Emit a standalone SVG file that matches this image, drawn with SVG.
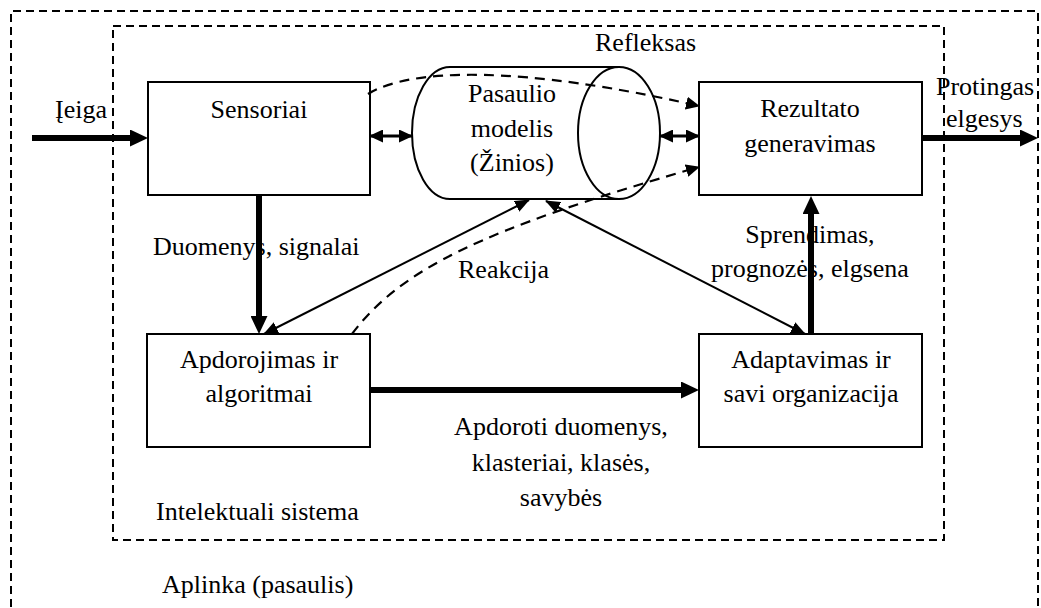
<svg xmlns="http://www.w3.org/2000/svg" width="1041" height="608" viewBox="0 0 1041 608">
  <style>
    .mid { text-anchor: middle; }
    .box { fill: #fff; stroke: #000; stroke-width: 2; }
    .frame { fill: none; stroke: #000; stroke-width: 2; stroke-dasharray: 8 5; }
    .thick { fill: none; stroke: #000; stroke-width: 6; }
    .thin { fill: none; stroke: #000; stroke-width: 2; }
    .dbl { fill: none; stroke: #000; stroke-width: 3; }
    .dash { fill: none; stroke: #000; stroke-width: 2.2; stroke-dasharray: 10 7; }
  </style>
  <defs>
    <!-- big head for the heavy data-flow arrows -->
    <marker id="headBig" markerUnits="userSpaceOnUse" markerWidth="18" markerHeight="17" refX="6" refY="8.5" orient="auto">
      <path d="M0,0 L18,8.5 L0,17 z" fill="#000" stroke="none"/>
    </marker>
    <!-- small head for thin links -->
    <marker id="headSmall" markerUnits="userSpaceOnUse" markerWidth="15" markerHeight="12" refX="14" refY="6" orient="auto-start-reverse">
      <path d="M0,0 L15,6 L0,12 z" fill="#000" stroke="none"/>
    </marker>
    <marker id="headMid" markerUnits="userSpaceOnUse" markerWidth="14" markerHeight="13" refX="13" refY="6.5" orient="auto-start-reverse">
      <path d="M0,0 L14,6.5 L0,13 z" fill="#000" stroke="none"/>
    </marker>
  </defs>

  <!-- environment and system boundaries -->
  <g id="aplinka">
    <path class="frame" d="M11,620 L11,11 L1038,11 L1038,620"/>
    <text x="162" y="593" style="font-family:'Liberation Serif',serif;font-size:26px">Aplinka (pasaulis)</text>
  </g>
  <g id="sistema">
    <rect class="frame" x="113" y="26" width="831" height="514"/>
    <text x="156" y="520" style="font-family:'Liberation Serif',serif;font-size:26px">Intelektuali sistema</text>
  </g>

  <!-- processing blocks -->
  <g id="sensoriai">
    <rect class="box" x="148" y="82" width="222" height="113"/>
    <text class="mid" x="259" y="118" style="font-family:'Liberation Serif',serif;font-size:26px">Sensoriai</text>
  </g>
  <g id="pasaulio-modelis">
    <path class="box" d="M619,67 L450,67 A38,66 0 0 0 450,199 L619,199"/>
    <ellipse class="box" cx="619" cy="133" rx="41" ry="66"/>
    <text class="mid" x="512" y="102" style="font-family:'Liberation Serif',serif;font-size:26px">Pasaulio</text>
    <text class="mid" x="512" y="137" style="font-family:'Liberation Serif',serif;font-size:26px">modelis</text>
    <text class="mid" x="512" y="171" style="font-family:'Liberation Serif',serif;font-size:26px">(Žinios)</text>
  </g>
  <g id="rezultato-generavimas">
    <rect class="box" x="699" y="82" width="223" height="113"/>
    <text class="mid" x="810" y="117" style="font-family:'Liberation Serif',serif;font-size:26px">Rezultato</text>
    <text class="mid" x="810" y="152" style="font-family:'Liberation Serif',serif;font-size:26px">generavimas</text>
  </g>
  <g id="apdorojimas">
    <rect class="box" x="147" y="334" width="223" height="113"/>
    <text class="mid" x="259" y="368" style="font-family:'Liberation Serif',serif;font-size:26px">Apdorojimas ir</text>
    <text class="mid" x="259" y="402" style="font-family:'Liberation Serif',serif;font-size:26px">algoritmai</text>
  </g>
  <g id="adaptavimas">
    <rect class="box" x="699" y="334" width="223" height="113"/>
    <text class="mid" x="811" y="368" style="font-family:'Liberation Serif',serif;font-size:26px">Adaptavimas ir</text>
    <text class="mid" x="811" y="402" style="font-family:'Liberation Serif',serif;font-size:26px">savi organizacija</text>
  </g>

  <!-- connectors -->
  <g id="connectors">
    <!-- input and output -->
    <line class="thick" x1="32" y1="138" x2="136" y2="138" marker-end="url(#headBig)"/>
    <line class="thick" x1="922" y1="138" x2="1026" y2="138" marker-end="url(#headBig)"/>
    <!-- main data flow -->
    <line class="thick" x1="259" y1="195" x2="259" y2="322" marker-end="url(#headBig)"/>
    <line class="thick" x1="370" y1="390" x2="687" y2="390" marker-end="url(#headBig)"/>
    <line class="thick" x1="811" y1="334" x2="811" y2="208" marker-end="url(#headBig)"/>
    <!-- knowledge model exchanges -->
    <line class="dbl" x1="370" y1="136" x2="412" y2="136" marker-start="url(#headMid)" marker-end="url(#headMid)"/>
    <line class="dbl" x1="660" y1="136" x2="699" y2="136" marker-start="url(#headMid)" marker-end="url(#headMid)"/>
    <line class="thin" x1="264" y1="334" x2="529" y2="200" marker-start="url(#headSmall)" marker-end="url(#headSmall)"/>
    <line class="thin" x1="546" y1="201" x2="805" y2="334" marker-start="url(#headSmall)" marker-end="url(#headSmall)"/>
    <!-- reflex and reaction shortcuts -->
    <path class="dash" d="M368,94 C410,68 520,65 699,106" marker-end="url(#headMid)"/>
    <path class="dash" d="M352,334 C400,270 480,230 699,167" marker-end="url(#headMid)"/>

    <!-- connector labels -->
    <text x="55" y="118" style="font-family:'Liberation Serif',serif;font-size:26px">Įeiga</text>
    <text x="595" y="51" style="font-family:'Liberation Serif',serif;font-size:26px">Refleksas</text>
    <text x="936" y="95" style="font-family:'Liberation Serif',serif;font-size:26px">Protingas</text>
    <text x="946" y="127" style="font-family:'Liberation Serif',serif;font-size:26px">elgesys</text>
    <text x="153" y="255" style="font-family:'Liberation Serif',serif;font-size:26px">Duomenys, signalai</text>
    <text x="458" y="278" style="font-family:'Liberation Serif',serif;font-size:26px">Reakcija</text>
    <text class="mid" x="810" y="243" style="font-family:'Liberation Serif',serif;font-size:26px">Sprendimas,</text>
    <text class="mid" x="810" y="277" style="font-family:'Liberation Serif',serif;font-size:26px">prognozės, elgsena</text>
    <text class="mid" x="561" y="435" style="font-family:'Liberation Serif',serif;font-size:26px">Apdoroti duomenys,</text>
    <text class="mid" x="561" y="471" style="font-family:'Liberation Serif',serif;font-size:26px">klasteriai, klasės,</text>
    <text class="mid" x="561" y="506" style="font-family:'Liberation Serif',serif;font-size:26px">savybės</text>
  </g>
</svg>
